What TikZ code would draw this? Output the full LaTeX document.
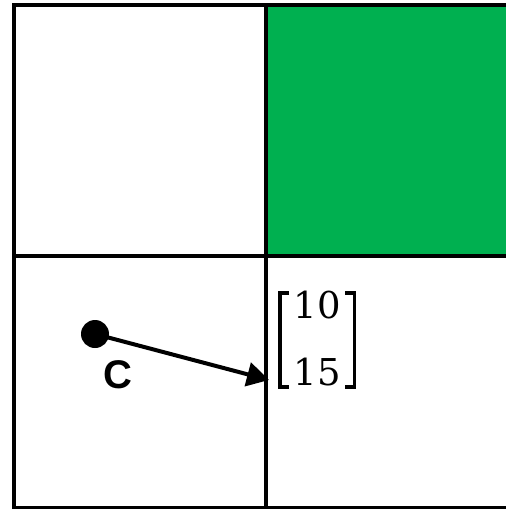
\documentclass[tikz,border=0pt]{standalone}
\usepackage{fontspec}
\newfontfamily\labelfont{Liberation Sans}
\newfontfamily\entryfont{DejaVu Serif}
\usetikzlibrary{arrows.meta}
\definecolor{cellgreen}{RGB}{0,176,80}
\tikzset{
  gridline/.style={line width=3.2pt, black},
  dotnode/.style={circle, fill=black, inner sep=0pt, minimum size=28pt},
  vecarrow/.style={line width=4pt, -{Triangle[length=22pt,width=24pt]}},
  entry/.style={inner sep=0pt, anchor=base, font=\entryfont\fontsize{37}{37}\selectfont},
  bracket/.style={line width=3.4pt, miter limit=10},
}
\begin{document}
\begin{tikzpicture}[x=1pt,y=-1pt]
\useasboundingbox (0,0) rectangle (506,509);
\clip (0,0) rectangle (506,509);
\fill[white] (0,0) rectangle (506,509);
\fill[cellgreen] (266,5) rectangle (520,256);
\draw[gridline] (14,5) rectangle (530,508);
\draw[gridline] (266,5) -- (266,508);
\draw[gridline] (14,256) -- (530,256);
\node[dotnode] (c) at (95,334) {};
\coordinate (tip) at (269,380);
\draw[vecarrow] (c.center) -- (tip);
\node (lab) at (118,375) {\labelfont\bfseries\fontsize{40}{48}\selectfont C};
\node[entry] (r1) at (317.5,318) {10};
\node[entry] (r2) at (317.5,385) {15};
\draw[bracket] (289,293) -- (280,293) -- (280,387) -- (289,387);
\draw[bracket] (345,293) -- (354.5,293) -- (354.5,387) -- (345,387);
\end{tikzpicture}
\end{document}
